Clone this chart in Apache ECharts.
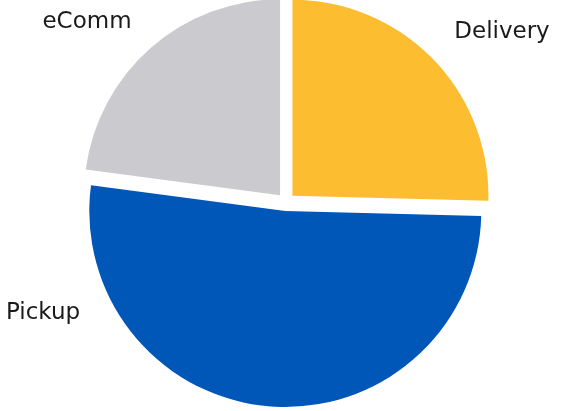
<!DOCTYPE html>
<html>
<head>
<meta charset="utf-8">
<title>Order channel share</title>
<script src="https://cdn.jsdelivr.net/npm/echarts@6/dist/echarts.min.js"></script>
<style>
  html, body { margin: 0; padding: 0; background: #ffffff; }
  #chart { width: 564px; height: 411px; }
</style>
</head>
<body>
<div id="chart"></div>
<script>
// Share of orders by fulfilment channel (percent), clockwise from 12 o'clock
const channels = ['Delivery', 'Pickup', 'eComm'];
const shares = [25.4, 51.7, 22.9];
const sliceColors = ['#FDBD31', '#0057B8', '#CBCBCF'];

// Centre of each channel name (px)
const labelSpots = [
  [502, 32],
  [43, 313],
  [87, 22]
];

const chart = echarts.init(document.getElementById('chart'), null, { renderer: 'canvas' });

chart.setOption({
  animation: false,
  series: [{
    type: 'pie',
    center: [286, 202],
    radius: 196,
    startAngle: 90,
    clockwise: true,
    selectedMode: 'multiple',
    selectedOffset: 9,
    label: { show: false },
    labelLine: { show: false },
    emphasis: { disabled: true },
    data: channels.map(function (name, i) {
      return {
        name: name,
        value: shares[i],
        selected: true,
        itemStyle: { color: sliceColors[i] },
        select: { itemStyle: { color: sliceColors[i] } }
      };
    })
  }],
  graphic: channels.map(function (name, i) {
    return {
      type: 'text',
      x: labelSpots[i][0],
      y: labelSpots[i][1],
      silent: true,
      style: {
        text: name,
        fill: '#1a1a1a',
        font: '23px "DejaVu Sans"',
        align: 'center',
        verticalAlign: 'middle'
      }
    };
  })
});
</script>
</body>
</html>
